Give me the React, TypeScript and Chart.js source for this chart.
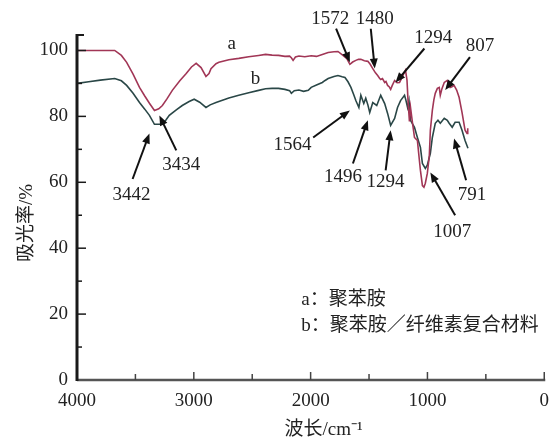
import { useEffect, useRef } from 'react';
import { Chart, registerables } from 'chart.js';

Chart.register(...registerables);

// Spectrum a: 聚苯胺 (wavenumber cm-1, absorbance %)
const waveA = [
  4000, 3900, 3800, 3677, 3620, 3575, 3520, 3465, 3420, 3380,
  3337, 3300, 3269, 3230, 3184, 3120, 3065, 3020, 2980, 2938,
  2896, 2870, 2853, 2810, 2785, 2700, 2615, 2530, 2445, 2386,
  2330, 2275, 2220, 2180, 2165, 2150, 2130, 2100, 2050, 1995,
  1950, 1900, 1850, 1800, 1766, 1723, 1690, 1664, 1640, 1613,
  1590, 1570, 1540, 1510, 1490, 1468, 1445, 1426, 1410, 1400,
  1385, 1366, 1355, 1341, 1328, 1315, 1300, 1281, 1260, 1239,
  1215, 1196, 1188, 1175, 1165, 1154, 1145, 1128, 1111, 1086,
  1069, 1060, 1043, 1030, 1018, 1001, 984, 975, 958, 945,
  933, 915, 899, 890, 875, 856, 831, 805, 790, 772,
  750, 729, 704, 678, 661, 655,
];
const absA = [
  100, 100, 100, 100, 98.5, 96.4, 92.8, 88.8, 86.2, 84,
  81.8, 82.3, 83.3, 85.3, 87.9, 90.8, 93, 95, 96.1, 94.8,
  92.1, 93, 94.5, 96, 96.4, 97.2, 97.6, 98.1, 98.5, 98.8,
  98.6, 98.5, 98.2, 98.3, 97.8, 97, 98, 98.3, 98.1, 98.4,
  98.2, 98.8, 99.4, 99.6, 99.7, 98.5, 97.5, 95.8, 96.5, 97,
  97.3, 97.3, 96.9, 96.7, 95.8, 94.5, 93.2, 92.4, 91.6, 91.2,
  91.5, 90.3, 90.6, 89.4, 89, 88.2, 89.5, 90.9, 90.2, 90.3,
  92, 93.5, 94, 91, 84, 78.5, 82.7, 78, 73.6, 72.7,
  66.7, 63.6, 59, 58.5, 59.7, 62.7, 68, 75.8, 81.8, 85,
  87, 88.5, 88.8, 86.4, 88.5, 90.3, 90.9, 88.8, 89, 89.4,
  88, 85.8, 81.2, 75.8, 74.8, 76.4,
];

// Spectrum b: 聚苯胺/纤维素复合材料
const waveB = [
  4000, 3900, 3800, 3677, 3620, 3575, 3520, 3465, 3420, 3380,
  3337, 3300, 3269, 3240, 3210, 3150, 3099, 3040, 2997, 2950,
  2896, 2860, 2810, 2700, 2615, 2530, 2445, 2386, 2330, 2275,
  2220, 2180, 2165, 2140, 2100, 2060, 2020, 1995, 1950, 1900,
  1876, 1850, 1800, 1766, 1730, 1706, 1680, 1655, 1630, 1613,
  1587, 1570, 1545, 1528, 1510, 1494, 1468, 1434, 1400, 1366,
  1341, 1315, 1281, 1256, 1230, 1196, 1185, 1170, 1158, 1145,
  1111, 1086, 1060, 1043, 1018, 1001, 975, 958, 933, 910,
  890, 856, 830, 814, 788, 763, 729, 704, 678, 653,
];
const absB = [
  90, 90.5, 91, 91.5, 90.8, 89.4, 87, 84.2, 82.2, 80.3,
  77.6, 77.6, 77.6, 78.8, 80.3, 82, 83.3, 84.5, 85.2, 84.3,
  82.7, 83.5, 84.2, 85.6, 86.4, 87.2, 87.9, 88.4, 88.5, 88.5,
  88.2, 87.8, 87, 87.8, 88, 87.6, 87.9, 88.8, 89.5, 90.3,
  90.9, 91.5, 92.1, 92.4, 92, 91.8, 90.5, 88.8, 86.5, 84.8,
  82.7, 86.4, 83.9, 85.5, 83.5, 81.2, 84.2, 83.3, 86.4, 83.9,
  80.9, 77.3, 79.4, 82.7, 84.8, 86.4, 85, 82.7, 84.8, 78.8,
  76.7, 73.6, 70.6, 65.7, 64.2, 65.2, 68.8, 73.6, 77.9, 78.8,
  77.9, 79.4, 78.8, 77.9, 76.7, 78.2, 78.2, 75.8, 72.7, 70.3,
];

// Tick values
const xTicks = [0, 500, 1000, 1500, 2000, 2500, 3000, 3500, 4000];
const yTicks = [0, 10, 20, 30, 40, 50, 60, 70, 80, 90, 100];

// Curve name labels (text, wavenumber, value)
const curveNames = ['a', 'b'];
const curveNameW = [2675, 2471];
const curveNameV = [102.1, 91.2];

// Peak annotations
const peakLabels = ['3442', '3434', '1564', '1496', '1294', '1572', '1480', '1294', '807', '791', '1007'];
const peakTextW = [3533, 3108, 2156, 1723, 1358, 1833, 1451, 950, 551, 619, 788];
const peakTextV = [56.1, 65.2, 71.2, 61.5, 60, 109.4, 109.4, 103.9, 101.5, 56.1, 44.8];
const peakTailW = [3524, 3150, 1978, 1638, 1358, 1782, 1485, 1026, 636, 669, 763];
const peakTailV = [61, 69.7, 73.6, 65.7, 63.6, 106.6, 106.6, 100.6, 98, 60.6, 50];
const peakTipW = [3380, 3295, 1664, 1510, 1315, 1664, 1451, 1273, 848, 772, 975];
const peakTipV = [74.8, 80.3, 81.8, 78.8, 75.8, 96.4, 94.5, 90.3, 88, 73.3, 63];

// Legend text
const legendPrefix = ['a：', 'b：'];
const legendNames = ['聚苯胺', '聚苯胺／纤维素复合材料'];
const legendW = 2080;
const legendV = [24.2, 16.4];

const xTitle = '波长/cm⁻¹';
const yTitle = '吸光率/%';

const COLOR_A = '#a13656';
const COLOR_B = '#2a4747';
const TEXT = '#222';
const SERIF = '"Liberation Serif", "Noto Sans CJK SC", serif';

const overlayPlugin = {
  id: 'overlay',
  afterDatasetsDraw(chart: any) {
    const ctx = chart.ctx as CanvasRenderingContext2D;
    const xs = chart.scales.x;
    const ys = chart.scales.y;
    const area = chart.chartArea;
    const px = (w: number) => xs.getPixelForValue(w);
    const py = (v: number) => ys.getPixelForValue(v);
    ctx.save();

    // x axis line
    ctx.strokeStyle = '#555';
    ctx.lineWidth = 2.5;
    ctx.beginPath();
    ctx.moveTo(px(4000), py(0));
    ctx.lineTo(px(0) + 1, py(0));
    ctx.stroke();
    // x ticks (inside)
    ctx.lineWidth = 1.5;
    ctx.strokeStyle = '#444';
    xTicks.forEach((t) => {
      if (t === 4000) return;
      const len = t % 1000 === 0 ? 8 : 6;
      ctx.beginPath();
      ctx.moveTo(px(t), py(0));
      ctx.lineTo(px(t), py(0) - len);
      ctx.stroke();
    });

    // y axis line
    ctx.strokeStyle = '#1a1a1a';
    ctx.lineWidth = 3;
    ctx.beginPath();
    ctx.moveTo(area.left, py(0) + 1);
    ctx.lineTo(area.left, area.top);
    ctx.stroke();
    ctx.lineWidth = 2;
    ctx.beginPath();
    ctx.moveTo(area.left, area.top + 1);
    ctx.lineTo(area.left + 7, area.top + 1);
    ctx.stroke();
    ctx.lineWidth = 1.5;
    yTicks.forEach((t) => {
      if (t === 0) return;
      const len = t % 20 === 0 ? 9 : 5;
      ctx.beginPath();
      ctx.moveTo(area.left, py(t));
      ctx.lineTo(area.left + len, py(t));
      ctx.stroke();
    });

    // curve names
    ctx.fillStyle = TEXT;
    ctx.font = `19px ${SERIF}`;
    ctx.textAlign = 'center';
    ctx.textBaseline = 'middle';
    curveNames.forEach((n, i) => ctx.fillText(n, px(curveNameW[i]), py(curveNameV[i])));

    // peak annotations
    peakLabels.forEach((lab, i) => {
      ctx.fillStyle = TEXT;
      ctx.fillText(lab, px(peakTextW[i]), py(peakTextV[i]));
      const x1 = px(peakTailW[i]);
      const y1 = py(peakTailV[i]);
      const x2 = px(peakTipW[i]);
      const y2 = py(peakTipV[i]);
      const ang = Math.atan2(y2 - y1, x2 - x1);
      const head = 10;
      const hw = 4;
      ctx.strokeStyle = '#111';
      ctx.lineWidth = 2;
      ctx.beginPath();
      ctx.moveTo(x1, y1);
      ctx.lineTo(x2 - Math.cos(ang) * head * 0.8, y2 - Math.sin(ang) * head * 0.8);
      ctx.stroke();
      ctx.fillStyle = '#111';
      ctx.beginPath();
      ctx.moveTo(x2, y2);
      ctx.lineTo(x2 - Math.cos(ang) * head - Math.sin(ang) * hw, y2 - Math.sin(ang) * head + Math.cos(ang) * hw);
      ctx.lineTo(x2 - Math.cos(ang) * head + Math.sin(ang) * hw, y2 - Math.sin(ang) * head - Math.cos(ang) * hw);
      ctx.closePath();
      ctx.fill();
    });

    // legend text
    ctx.fillStyle = TEXT;
    ctx.textAlign = 'left';
    ctx.font = `19px ${SERIF}`;
    legendPrefix.forEach((p, i) => {
      const x0 = px(legendW);
      const y0 = py(legendV[i]);
      ctx.fillText(p, x0, y0);
      const w = ctx.measureText(p).width;
      ctx.fillText(legendNames[i], x0 + w, y0);
    });

    // axis titles
    ctx.textAlign = 'center';
    ctx.fillText(xTitle, (area.left + area.right) / 2 + 13, 430);
    ctx.save();
    ctx.translate(27, (area.top + area.bottom) / 2 + 16);
    ctx.rotate(-Math.PI / 2);
    ctx.fillText(yTitle, 0, 0);
    ctx.restore();

    ctx.restore();
  },
};

export default function App() {
  const ref = useRef<HTMLCanvasElement | null>(null);
  useEffect(() => {
    if (!ref.current) return;
    const ptsA = waveA.map((w, i) => ({ x: w, y: absA[i] }));
    const ptsB = waveB.map((w, i) => ({ x: w, y: absB[i] }));
    const tickFont = { family: SERIF, size: 19 };
    const chart = new Chart(ref.current, {
      type: 'line',
      data: {
        datasets: [
          { label: 'a', data: ptsA, borderColor: COLOR_A, borderWidth: 1.6, pointRadius: 0, tension: 0, fill: false },
          { label: 'b', data: ptsB, borderColor: COLOR_B, borderWidth: 1.6, pointRadius: 0, tension: 0, fill: false },
        ],
      },
      options: {
        animation: false,
        responsive: true,
        maintainAspectRatio: false,
        layout: { padding: { top: 34, right: 11, left: 0, bottom: 0 } },
        plugins: { legend: { display: false }, tooltip: { enabled: false } },
        scales: {
          x: {
            type: 'linear',
            reverse: true,
            min: 0,
            max: 4000,
            border: { display: false },
            grid: { display: false, drawTicks: false },
            ticks: {
              stepSize: 500,
              autoSkip: false,
              maxRotation: 0,
              padding: 10,
              color: TEXT,
              font: tickFont,
              callback: (v: any) => (Number(v) % 1000 === 0 ? String(v) : ''),
            },
            afterFit: (s: any) => { s.height = 65; },
          },
          y: {
            type: 'linear',
            min: 0,
            max: 105,
            border: { display: false },
            grid: { display: false, drawTicks: false },
            ticks: {
              stepSize: 10,
              includeBounds: false,
              autoSkip: false,
              padding: 9,
              color: TEXT,
              font: tickFont,
              callback: (v: any) => (Number(v) % 20 === 0 ? String(v) : ''),
            },
            afterFit: (s: any) => { s.width = 77; },
          },
        },
      } as any,
      plugins: [overlayPlugin],
    });
    return () => chart.destroy();
  }, []);
  return (
    <div style={{ position: 'absolute', left: 0, top: 0, width: 559, height: 445, background: '#fff' }}>
      <canvas ref={ref} />
    </div>
  );
}
